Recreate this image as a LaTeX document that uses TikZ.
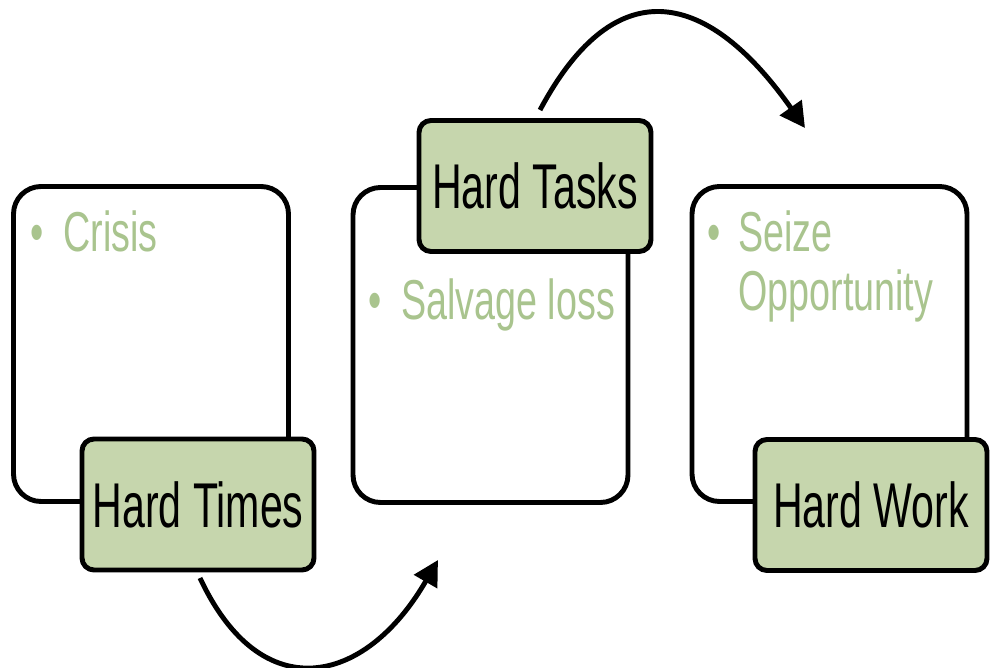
\documentclass[tikz,border=0pt]{standalone}
\usepackage{fontspec}
\setmainfont[FakeStretch=0.65]{Liberation Sans}
\newfontfamily\pointfont[FakeStretch=0.67]{Liberation Sans}
\usetikzlibrary{arrows.meta}
\definecolor{sage}{HTML}{C6D6AD}
\definecolor{sagetext}{HTML}{A9C48E}

\begin{document}
\begin{tikzpicture}[
  panel/.style={draw, line width=2.8pt, fill=white, rounded corners=0.55cm,
    minimum width=5.5cm, minimum height=6.3cm},
  tag/.style={draw, line width=2.8pt, fill=sage, rounded corners=0.24cm,
    minimum width=4.64cm, minimum height=2.62cm, inner sep=0pt,
    font=\fontsize{36}{40}\selectfont},
  point/.style={anchor=base west, inner sep=0pt, text=sagetext,
    font=\pointfont\fontsize{32}{33}\selectfont},
  flow/.style={line width=2.8pt, -{Triangle[width=0.52cm,length=0.5cm]}}]
  \useasboundingbox (0,0) rectangle (19.82,13.36);

  \node[panel] (crisis)  at (3.02,6.48)  {};
  \node[panel] (salvage) at (9.81,6.46)  {};
  \node[panel] (seize)   at (16.59,6.48) {};

  \node[point] (crisistxt)  at (0.60,8.32)  {\makebox[0.66cm][l]{\textbullet}Crisis};
  \node[point] (salvagetxt) at (7.36,6.96)  {\makebox[0.66cm][l]{\textbullet}Salvage loss};
  \node[point] (seizetxt)   at (14.14,8.32) {\begin{tabular}[t]{@{}l@{}l@{}}
      \makebox[0.62cm][l]{\textbullet} & Seize\\ & Opportunity\end{tabular}};

  \node[tag] (times) at (3.96,3.27)  {Hard Times};
  \node[tag] (tasks) at (10.70,9.64) {Hard Tasks};
  \node[tag] (work)  at (17.42,3.26) {Hard Work};

  \coordinate (down1) at (4.00,1.80);
  \coordinate (up1)   at (8.76,2.16);
  \coordinate (up2)   at (10.80,11.16);
  \coordinate (down2) at (16.10,10.80);

  \draw[flow] (down1) .. controls (5.23,-0.83) and (7.31,-0.35) .. (up1);
  \draw[flow] (up2) .. controls (12.35,14.06) and (14.21,13.49) .. (down2);
\end{tikzpicture}
\end{document}
